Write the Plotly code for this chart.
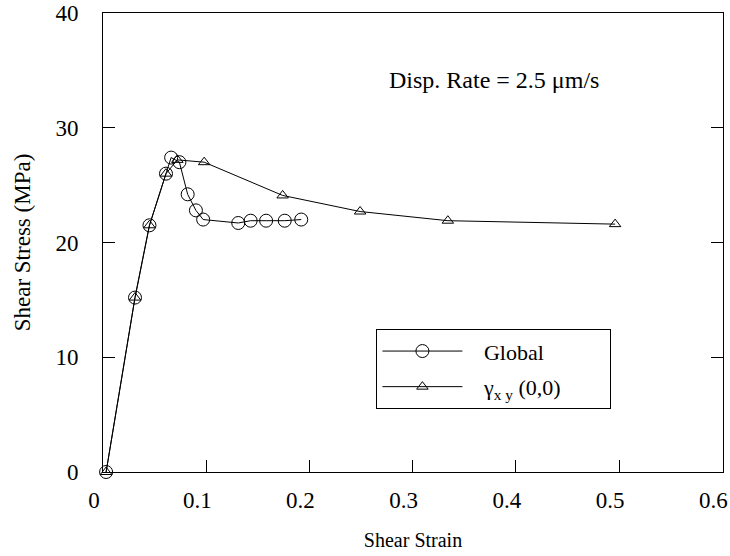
import plotly.graph_objects as go

# Global (circles)
global_strain = [0.003, 0.031, 0.045, 0.061, 0.066, 0.074, 0.082, 0.090, 0.097, 0.131, 0.143, 0.158, 0.176, 0.192]
global_stress = [0.0, 15.2, 21.5, 26.0, 27.4, 27.0, 24.2, 22.8, 22.0, 21.7, 21.9, 21.9, 21.9, 22.0]

# gamma_xy (0,0) (triangles)
gxy_strain = [0.003, 0.031, 0.045, 0.061, 0.072, 0.098, 0.174, 0.249, 0.334, 0.496]
gxy_stress = [0.0, 15.2, 21.5, 26.0, 27.2, 27.0, 24.1, 22.7, 21.9, 21.6]

x_ticks = [0, 0.1, 0.2, 0.3, 0.4, 0.5, 0.6]
x_ticklabels = ["0", "0.1", "0.2", "0.3", "0.4", "0.5", "0.6"]
y_ticks = [0, 10, 20, 30, 40]

FONT = "Liberation Serif, Times New Roman, serif"
NB = "\u00a0"

fig = go.Figure()
fig.add_trace(go.Scatter(
    x=global_strain, y=global_stress, mode="lines+markers",
    name=NB * 3 + "Global",
    line=dict(color="black", width=1),
    marker=dict(symbol="circle-open", size=13, color="black", line=dict(width=1)),
    legendgroup="g1", cliponaxis=False,
))
fig.add_trace(go.Scatter(
    x=gxy_strain, y=gxy_stress, mode="lines+markers",
    name=NB * 3 + "γ<sub>x y</sub> (0,0)" + NB * 8,
    line=dict(color="black", width=1),
    marker=dict(symbol="triangle-up-open", size=10, color="black", line=dict(width=1)),
    legendgroup="g2", cliponaxis=False,
))

fig.add_annotation(
    text="Disp. Rate = 2.5 μm/s", xref="paper", yref="paper",
    x=0.63, y=0.854, xanchor="center", yanchor="middle", showarrow=False,
    font=dict(family=FONT, size=24, color="black"),
)

fig.update_layout(
    width=730, height=556,
    margin=dict(l=103, r=7, t=13, b=84, autoexpand=False),
    paper_bgcolor="white", plot_bgcolor="white",
    font=dict(family=FONT, size=22, color="black"),
    showlegend=True,
    legend=dict(
        x=0.441, y=0.311, xanchor="left", yanchor="top",
        bordercolor="black", borderwidth=1, bgcolor="white",
        font=dict(family=FONT, size=22, color="black"),
        tracegroupgap=4, itemwidth=80,
    ),
    xaxis=dict(
        range=[0, 0.6005], tickvals=x_ticks, ticktext=x_ticklabels,
        ticks="inside", ticklen=12, tickcolor="black", tickwidth=1,
        showline=True, linecolor="black", linewidth=1, mirror=True,
        showgrid=False, zeroline=False, ticklabelstandoff=7,
        ticklabelshift=-9, ticklabeloverflow="allow",
        tickfont=dict(family=FONT, size=23),
        automargin=False,
        title=dict(text="Shear Strain", font=dict(family=FONT, size=20), standoff=21),
    ),
    yaxis=dict(
        range=[0, 40], tickvals=y_ticks,
        ticks="inside", ticklen=12, tickcolor="black", tickwidth=1,
        showline=True, linecolor="black", linewidth=1, mirror="ticks",
        showgrid=False, zeroline=False, ticklabelstandoff=19,
        tickfont=dict(family=FONT, size=23),
        automargin=False,
        title=dict(text="Shear Stress (MPa)", font=dict(family=FONT, size=23), standoff=18),
    ),
)

fig.write_html(
    "out.html",
    config={"displayModeBar": False},
    post_script="document.body.style.margin='0';document.body.style.padding='0';",
)
